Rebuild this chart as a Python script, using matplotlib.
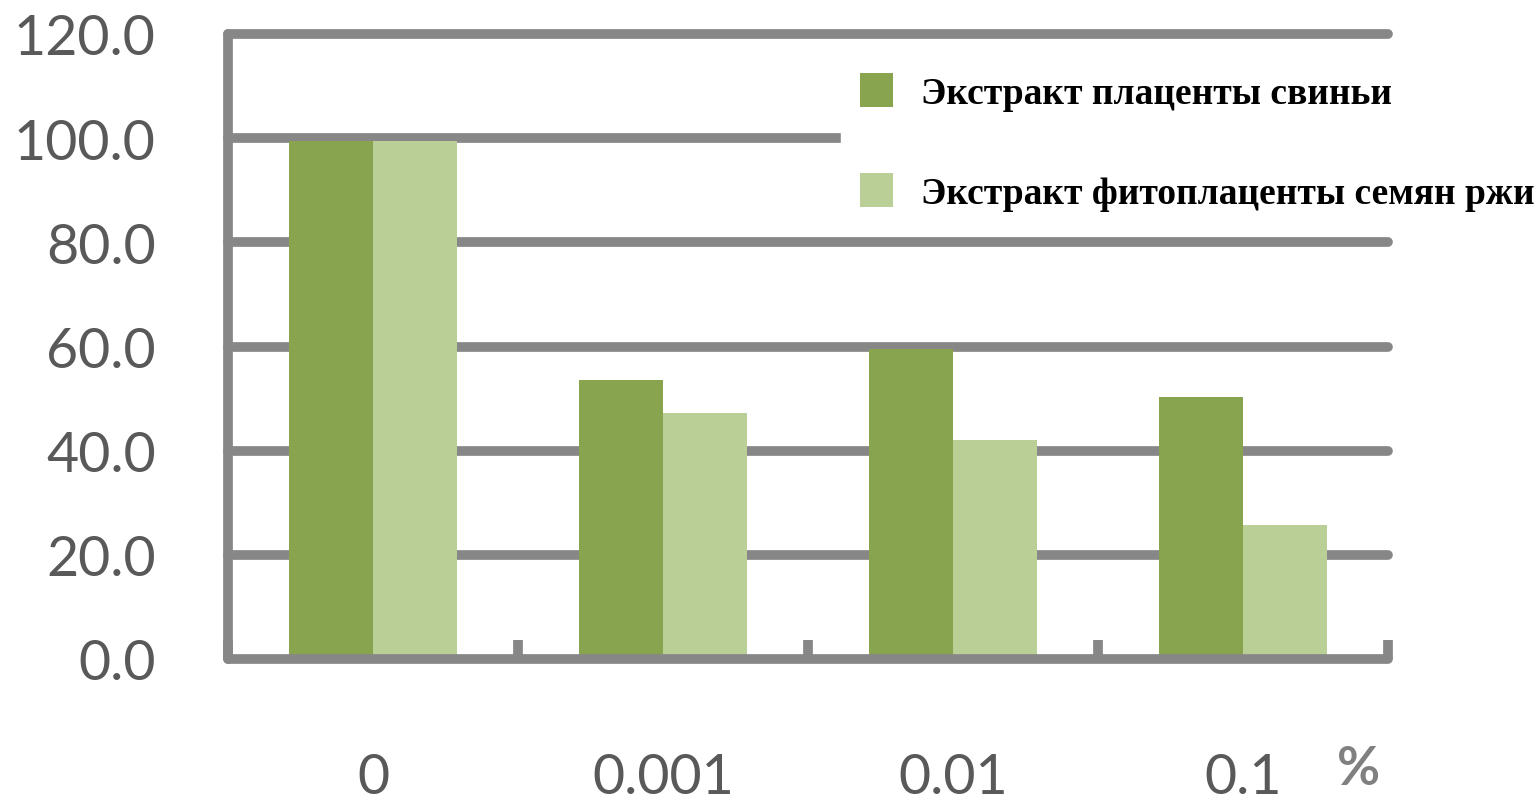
import matplotlib
matplotlib.use("Agg")
import matplotlib.pyplot as plt
import numpy as np

categories = ["0", "0.001", "0.01", "0.1"]
pig_placenta = [99.5, 53.5, 59.6, 50.3]
rye_phytoplacenta = [99.5, 47.3, 42.1, 25.8]
series_labels = ["Экстракт плаценты свиньи", "Экстракт фитоплаценты семян ржи"]
y_ticks = [0, 20, 40, 60, 80, 100, 120]

DARK = "#88A44E"
LIGHT = "#B9CF96"
GRID = "#878787"
TXT = "#595959"
NUM_FONT = ["Lato", "DejaVu Sans"]

W, H = 1538, 804
fig = plt.figure(figsize=(W / 100, H / 100), dpi=100)
ax = fig.add_axes([228 / W, 1 - 660 / H, (1388 - 228) / W, (660 - 35) / H])

x = np.arange(len(categories))
w = 0.29
ax.bar(x - w / 2, pig_placenta, w, color=DARK, zorder=3, label=series_labels[0])
ax.bar(x + w / 2, rye_phytoplacenta, w, color=LIGHT, zorder=3, label=series_labels[1])

ax.set_xlim(-0.5, len(categories) - 0.5)
ax.set_ylim(0, 120)

# thick grid lines
for yv in y_ticks[1:]:
    ax.axhline(yv, color=GRID, lw=7, zorder=1, clip_on=False, solid_capstyle="round")

for s in ["top", "right"]:
    ax.spines[s].set_visible(False)
for s in ["left", "bottom"]:
    ax.spines[s].set_color(GRID)
    ax.spines[s].set_linewidth(7)
    ax.spines[s].set_capstyle("round")
    ax.spines[s].set_zorder(4)

# category boundary ticks, labels at centres
ax.set_xticks(np.arange(len(categories) + 1) - 0.5)
ax.set_xticklabels([])
ax.tick_params(axis="x", which="major", direction="in", length=14, width=7, color=GRID)
ax.set_xticks(x, minor=True)
ax.set_xticklabels(categories, minor=True)
ax.tick_params(axis="x", which="minor", length=0, pad=67, labelsize=40, labelcolor=TXT)
for lab in ax.get_xticklabels(minor=True):
    lab.set_family(NUM_FONT)

ax.set_yticks(y_ticks)
ax.set_yticklabels([f"{v:.1f}" for v in y_ticks])
ax.tick_params(axis="y", length=0, pad=52, labelsize=40, labelcolor=TXT)
for lab in ax.get_yticklabels():
    lab.set_family(NUM_FONT)

fig.text(1359 / W, 1 - 770 / H, "%", ha="center", va="center", fontsize=38,
         fontweight="bold", color="#808080", family=NUM_FONT)

leg = fig.legend(loc="upper left", bbox_to_anchor=(822 / W, 1 - 36 / H),
                 prop={"family": "Liberation Serif", "weight": "bold", "size": 27},
                 frameon=True, facecolor="white", edgecolor="white", framealpha=1,
                 handlelength=0.9, handleheight=1.05, handletextpad=0.75,
                 labelspacing=1.65, borderpad=0.5, fancybox=False)

fig.savefig("out.png", dpi=100)
